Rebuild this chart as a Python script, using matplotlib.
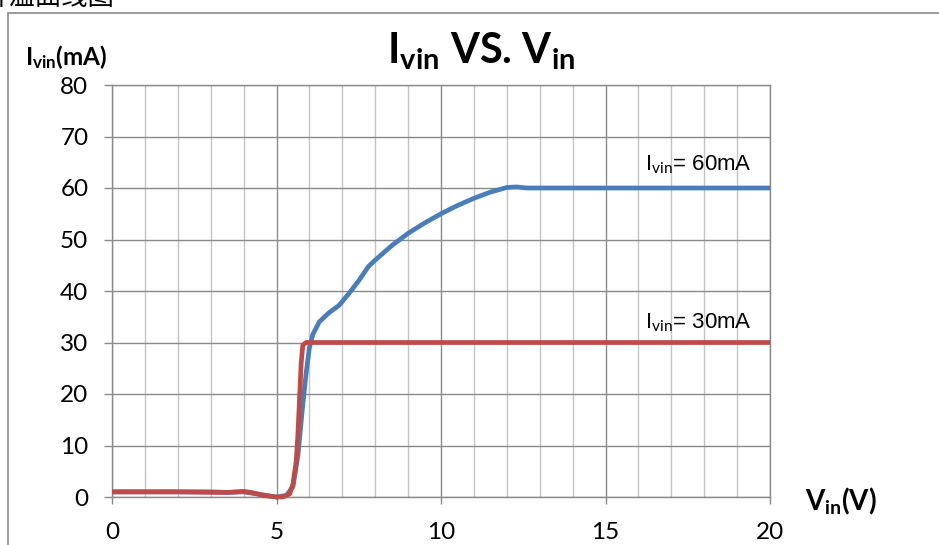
import matplotlib.pyplot as plt
from matplotlib.patches import Rectangle

plt.rcParams['font.family'] = ['Lato', 'DejaVu Sans']
plt.rcParams['mathtext.fontset'] = 'custom'
plt.rcParams['mathtext.rm'] = 'Lato'
plt.rcParams['mathtext.bf'] = 'Lato:bold'

# datos
v_blue = [0, 1, 2, 3, 3.5, 4, 4.5, 5, 5.3, 5.5, 5.65, 5.8, 5.9, 6.0, 6.1, 6.3, 6.6, 6.9,
          7.2, 7.5, 7.8, 8, 8.5, 9, 9.5, 10, 10.5, 11, 11.5, 12, 12.3, 12.6, 13, 20]
i_blue = [1.0, 1.0, 1.0, 1.0, 0.9, 1.0, 0.5, 0, 0.3, 2, 8, 18, 24, 29, 31.5, 34, 35.8, 37.2,
          39.5, 42, 44.8, 46, 48.8, 51.2, 53.2, 55, 56.6, 58, 59.2, 60.1, 60.2, 60, 60, 60]

v_red = [0, 1, 2, 3, 3.6, 4, 4.3, 4.6, 5, 5.2, 5.4, 5.5, 5.6, 5.65, 5.7, 5.75, 5.8, 5.9, 10, 15, 20]
i_red = [1.0, 1.0, 1.0, 0.9, 0.9, 1.1, 0.8, 0.3, 0, 0, 0.6, 2.5, 7, 12, 19, 26, 29.5, 30, 30, 30, 30]

x_ticks = [0, 5, 10, 15, 20]
y_ticks = [0, 10, 20, 30, 40, 50, 60, 70, 80]

W, H = 939, 545
fig = plt.figure(figsize=(W / 100, H / 100), dpi=100)
ax = fig.add_axes([112 / W, 1 - 497 / H, (770 - 112) / W, (497 - 85) / H])

ax.set_xlim(0, 20)
ax.set_ylim(0, 80)

# rejilla
for v in range(0, 21):
    if v % 5 == 0:
        continue
    ax.axvline(v, color='#c4c4c4', lw=1.0, zorder=1)
for v in x_ticks:
    ax.axvline(v, color='#8a8a8a', lw=1.0, zorder=1)
for v in y_ticks:
    ax.axhline(v, color='#8a8a8a', lw=1.0, zorder=1)

ax.plot(v_blue, i_blue, color='#4a7ebb', lw=3.4, zorder=3, clip_on=False,
        solid_joinstyle='round', solid_capstyle='butt')
ax.plot(v_red, i_red, color='#be4b48', lw=3.4, zorder=4, clip_on=False,
        solid_joinstyle='round', solid_capstyle='butt')

for s in ax.spines.values():
    s.set_color('#8a8a8a')
    s.set_linewidth(1.0)

ax.set_xticks(x_ticks)
ax.set_yticks(y_ticks)
ax.tick_params(axis='y', length=6, width=1.0, color='#8a8a8a', pad=11, labelsize=17.5)
ax.tick_params(axis='x', length=5, width=1.0, color='#8a8a8a', pad=13, labelsize=17.5)

ax.text(16.2, 63.5, r'I$_{\mathrm{vin}}$= 60mA', fontsize=16, family=['Liberation Sans Narrow', 'Liberation Sans'],
        va='baseline', ha='left', zorder=5)
ax.text(16.2, 32.8, r'I$_{\mathrm{vin}}$= 30mA', fontsize=16, family=['Liberation Sans Narrow', 'Liberation Sans'],
        va='baseline', ha='left', zorder=5)

fig.text(481 / W, 1 - 63 / H, r'$\mathbf{I_{vin}}$ VS. $\mathbf{V_{in}}$', fontsize=30,
         fontweight='bold', ha='center', va='baseline')
fig.text(25 / W, 1 - 65 / H, r'$\mathbf{I_{vin}(mA)}$', fontsize=17.5, ha='left', va='baseline')
fig.text(805 / W, 1 - 510 / H, r'$\mathbf{V_{in}(V)}$', fontsize=20, ha='left', va='baseline')

# marco exterior y titulo recortado
fig.patches.append(Rectangle((8 / W, -0.1), 1.2, 1.1 - 13 / H, transform=fig.transFigure,
                             fill=False, edgecolor='#8a8a8a', lw=1.2))
fig.text(-17 / W, 1 - 11 / H, '升温曲线图', fontsize=19, family=['Noto Sans CJK SC'],
         ha='left', va='bottom')

fig.savefig('out.png', dpi=100)
